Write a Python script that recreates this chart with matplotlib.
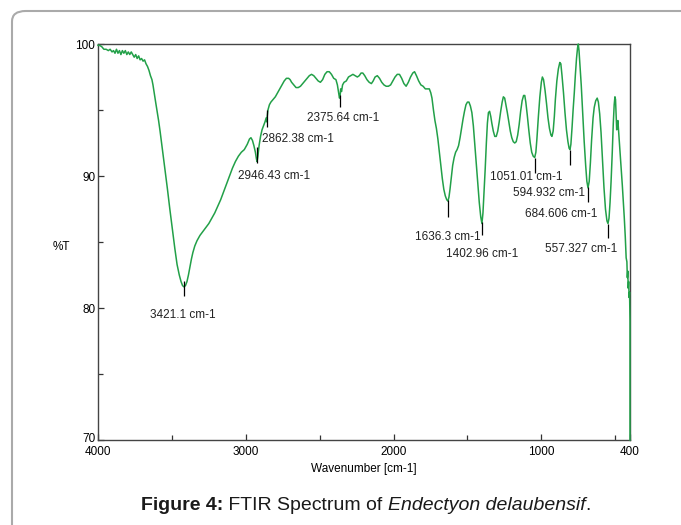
import numpy as np
import matplotlib
matplotlib.use('Agg')
import matplotlib.pyplot as plt
import matplotlib.transforms as mtransforms
from matplotlib.patches import FancyBboxPatch

plt.rcParams['font.family'] = ['Liberation Sans', 'DejaVu Sans']
plt.rcParams['font.size'] = 8.5

# FTIR spectrum: wavenumber (cm-1) and %T
wn = [4000, 3990, 3975, 3960, 3945, 3930, 3918, 3905, 3895, 3885, 3875, 3865, 3855, 3845,
      3835, 3825, 3815, 3805, 3795, 3785, 3775, 3765, 3755, 3745, 3735, 3725, 3715, 3705,
      3695, 3685, 3675, 3665, 3655, 3645, 3635, 3628, 3620, 3610, 3600, 3590, 3580, 3565,
      3547, 3530, 3514, 3497, 3480, 3465, 3450, 3438, 3428, 3418, 3408, 3398, 3388, 3378,
      3368, 3358, 3345, 3330, 3310, 3290, 3270, 3250, 3230, 3210, 3190, 3170, 3150, 3130,
      3110, 3090, 3070, 3050, 3030, 3010, 2990, 2975, 2965, 2955, 2945, 2935, 2928, 2924,
      2918, 2910, 2900, 2890, 2880, 2870, 2862, 2858, 2855, 2850, 2840, 2830, 2815, 2800,
      2785, 2770, 2755, 2740, 2725, 2710, 2700, 2690, 2675, 2660, 2645, 2630, 2615, 2600,
      2585, 2570, 2555, 2540, 2525, 2510, 2495, 2480, 2465, 2450, 2435, 2420, 2405, 2390,
      2380, 2372, 2366, 2362, 2358, 2352, 2345, 2335, 2320, 2305, 2290, 2275, 2260, 2245,
      2232, 2220, 2208, 2195, 2180, 2165, 2150, 2138, 2125, 2110, 2095, 2080, 2065, 2050,
      2035, 2020, 2005, 1990, 1975, 1960, 1945, 1930, 1915, 1900, 1885, 1870, 1858, 1845,
      1830, 1815, 1800, 1785, 1770, 1758, 1748, 1740, 1730, 1720, 1710, 1700, 1690, 1680,
      1670, 1660, 1650, 1640, 1632, 1625, 1618, 1610, 1600, 1590, 1580, 1570, 1560, 1550,
      1540, 1530, 1520, 1510, 1500, 1490, 1480, 1470, 1460, 1450, 1440, 1430, 1420, 1410,
      1402, 1395, 1388, 1380, 1372, 1365, 1358, 1350, 1342, 1335, 1325, 1315, 1305, 1295,
      1285, 1275, 1265, 1257, 1248, 1240, 1230, 1220, 1210, 1200, 1190, 1180, 1170, 1160,
      1150, 1140, 1130, 1120, 1112, 1105, 1095, 1085, 1075, 1065, 1055, 1045, 1037, 1030,
      1020, 1010, 1000, 993, 985, 975, 965, 955, 945, 935, 928, 920, 912, 905,
      895, 885, 875, 868, 860, 850, 840, 830, 820, 812, 806, 800, 792, 785,
      777, 770, 762, 755, 750, 745, 738, 730, 720, 710, 700, 692, 684, 676,
      668, 660, 650, 642, 632, 622, 614, 605, 596, 586, 576, 566, 556, 549,
      542, 535, 528, 520, 513, 507, 502, 498, 494, 490, 486, 482, 477, 470,
      462, 452, 445, 439, 432, 426, 421, 418, 415, 412, 409, 406, 403, 401,
      400, 400]
trans = [99.9, 99.9, 99.8, 99.6, 99.6, 99.5, 99.6, 99.4, 99.5, 99.3, 99.6, 99.3, 99.5, 99.2,
         99.5, 99.3, 99.5, 99.2, 99.4, 99.2, 99.4, 99.2, 99.0, 99.2, 98.9, 99.1, 98.8, 98.9,
         98.7, 98.8, 98.5, 98.3, 98.0, 97.6, 97.3, 96.9, 96.3, 95.6, 94.9, 94.2, 93.4, 92.1,
         90.5, 89.0, 87.5, 86.0, 84.5, 83.3, 82.5, 82.0, 81.7, 81.6, 81.7, 82.0, 82.5, 83.1,
         83.7, 84.2, 84.7, 85.1, 85.5, 85.8, 86.1, 86.4, 86.8, 87.2, 87.7, 88.2, 88.8, 89.4,
         90.0, 90.6, 91.1, 91.5, 91.8, 92.0, 92.4, 92.8, 92.9, 92.7, 92.3, 91.8, 91.3, 91.1,
         91.5, 92.3, 93.0, 93.5, 93.8, 94.1, 94.4, 94.1, 94.5, 95.0, 95.4, 95.6, 95.8, 96.0,
         96.3, 96.6, 96.9, 97.2, 97.4, 97.4, 97.3, 97.1, 96.9, 96.7, 96.7, 96.8, 97.0, 97.2,
         97.4, 97.6, 97.7, 97.6, 97.4, 97.2, 97.1, 97.3, 97.7, 97.9, 97.9, 97.7, 97.4, 97.3,
         96.9, 96.3, 95.9, 96.0, 96.6, 96.4, 96.9, 97.1, 97.2, 97.5, 97.6, 97.7, 97.6, 97.5,
         97.6, 97.8, 97.8, 97.6, 97.3, 97.1, 97.0, 97.2, 97.5, 97.6, 97.4, 97.1, 96.9, 96.8,
         96.8, 96.9, 97.2, 97.5, 97.7, 97.7, 97.4, 97.0, 96.8, 97.1, 97.5, 97.8, 97.9, 97.6,
         97.2, 96.9, 96.8, 96.6, 96.6, 96.6, 96.3, 95.9, 95.0, 94.2, 93.6, 92.8, 91.8, 90.8,
         89.8, 89.0, 88.5, 88.2, 88.1, 88.4, 89.0, 89.8, 90.8, 91.4, 91.8, 92.0, 92.3, 92.9,
         93.6, 94.3, 94.9, 95.4, 95.6, 95.6, 95.3, 94.8, 93.8, 92.4, 90.9, 89.4, 88.0, 86.9,
         86.4, 87.2, 88.7, 90.5, 92.5, 94.0, 94.8, 94.9, 94.5, 94.0, 93.4, 93.0, 93.0, 93.4,
         94.1, 94.9, 95.6, 96.0, 95.9, 95.4, 94.8, 94.1, 93.4, 92.9, 92.6, 92.5, 92.6, 93.1,
         93.9, 94.9, 95.7, 96.1, 96.1, 95.6, 94.6, 93.5, 92.5, 91.8, 91.5, 91.4, 91.8, 92.8,
         94.5, 96.0, 97.1, 97.5, 97.3, 96.5, 95.5, 94.4, 93.6, 93.1, 93.0, 93.4, 94.5, 95.8,
         97.2, 98.1, 98.6, 98.5, 97.6, 96.3, 94.8, 93.5, 92.6, 92.1, 92.0, 92.4, 93.7, 95.0,
         96.3, 97.6, 98.9, 99.7, 100.0, 99.5, 98.3, 96.9, 94.8, 92.6, 90.8, 89.6, 89.1, 89.6,
         91.0, 92.7, 94.4, 95.2, 95.7, 95.9, 95.6, 94.7, 93.3, 91.2, 89.1, 87.5, 86.6, 86.4,
         86.8, 88.0, 89.6, 91.8, 94.0, 95.4, 96.0, 95.8, 94.6, 93.5, 93.9, 94.2, 93.4, 92.2,
         90.9, 89.3, 88.0, 86.9, 85.4, 83.8, 83.5, 82.3, 82.8, 81.5, 82.0, 80.8, 81.2, 80.0,
         79.0, 70.0]

# peak markers: wavenumber, top and bottom of the small black tick (%T)
mark_wn = [3418, 2924, 2856, 2362, 1632, 1402, 1043, 806, 684, 549]
mark_top = [82.05, 92.2, 95.0, 96.1, 88.2, 86.5, 91.4, 92.0, 89.2, 86.4]
mark_bot = [80.9, 91.0, 93.7, 95.2, 86.9, 85.5, 90.2, 90.8, 88.0, 85.3]

# peak labels as printed on the chart
peak_labels = ['3421.1 cm-1', '2946.43 cm-1', '2862.38 cm-1', '2375.64 cm-1',
               '1636.3 cm-1', '1402.96 cm-1', '1051.01 cm-1', '594.932 cm-1',
               '684.606 cm-1', '557.327 cm-1']
lab_x = [3648, 3053, 2890, 2586, 1855, 1645, 1347, 1192, 1111, 975]
lab_y = [79.5, 90.0, 92.8, 94.4, 85.4, 84.1, 89.9, 88.7, 87.1, 84.5]

fig = plt.figure(figsize=(6.81, 5.25), dpi=100)
ax = fig.add_axes([98/681, 85/525, 532/681, 396/525])

ax.plot(wn, trans, color='#22a048', lw=1.1, zorder=3, clip_on=False)
ax.vlines(mark_wn, mark_bot, mark_top, color='black', lw=0.9, zorder=4)
for t, x, y in zip(peak_labels, lab_x, lab_y):
    ax.text(x, y, t, ha='left', va='center', fontsize=8.5, color='#222222')

ax.set_xlim(4000, 400)
ax.set_ylim(70, 100)
ax.set_xticks([4000, 3000, 2000, 1000, 400])
ax.set_xticks([3500, 2500, 1500, 500], minor=True)
ax.set_yticks([70, 80, 90, 100])
ax.set_yticks([75, 85, 95], minor=True)
ax.tick_params(which='both', direction='in', color='#333333', width=0.9)
ax.tick_params(which='major', length=4.5)
ax.tick_params(which='minor', length=3.5)
ax.tick_params(axis='x', pad=4.5)
ax.tick_params(axis='y', pad=2)
for s in ax.spines.values():
    s.set_color('#444444')
    s.set_linewidth(1.0)

# lift the "70" label a little so it clears "4000"
lbl70 = ax.get_yticklabels()[0]
lbl70.set_transform(lbl70.get_transform() +
                    mtransforms.ScaledTranslation(0, 3/100, fig.dpi_scale_trans))

ax.set_xlabel('Wavenumber [cm-1]', fontsize=8.5, labelpad=3.5)
ax.text(-0.068, 0.487, '%T', transform=ax.transAxes, ha='center', va='center', fontsize=8.5)

# outer rounded frame (runs off the right and bottom edge)
frame = FancyBboxPatch((12/681, -0.1), 1.2, 1.1 - 11/525,
                       boxstyle='round,pad=0,rounding_size=0.02',
                       transform=fig.transFigure, fill=False,
                       edgecolor='#aaaaaa', lw=1.5, clip_on=False)
fig.patches.append(frame)

# caption with bold / italic parts
renderer = fig.canvas.get_renderer()
parts = [('Figure 4:', 'bold', 'normal'), (' FTIR Spectrum of ', 'normal', 'normal'),
         ('Endectyon delaubensif', 'normal', 'italic'), ('.', 'normal', 'normal')]
texts = []
for s, w, st in parts:
    texts.append(fig.text(0, 1 - 505/525, s, fontsize=14, fontweight=w, fontstyle=st,
                          va='center', ha='left', color='#1a1a1a'))
widths = [t.get_window_extent(renderer).width for t in texts]
x0 = 366 - sum(widths) / 2
for t, w in zip(texts, widths):
    t.set_x(x0 / 681)
    x0 += w

fig.savefig('out.png', dpi=100)
